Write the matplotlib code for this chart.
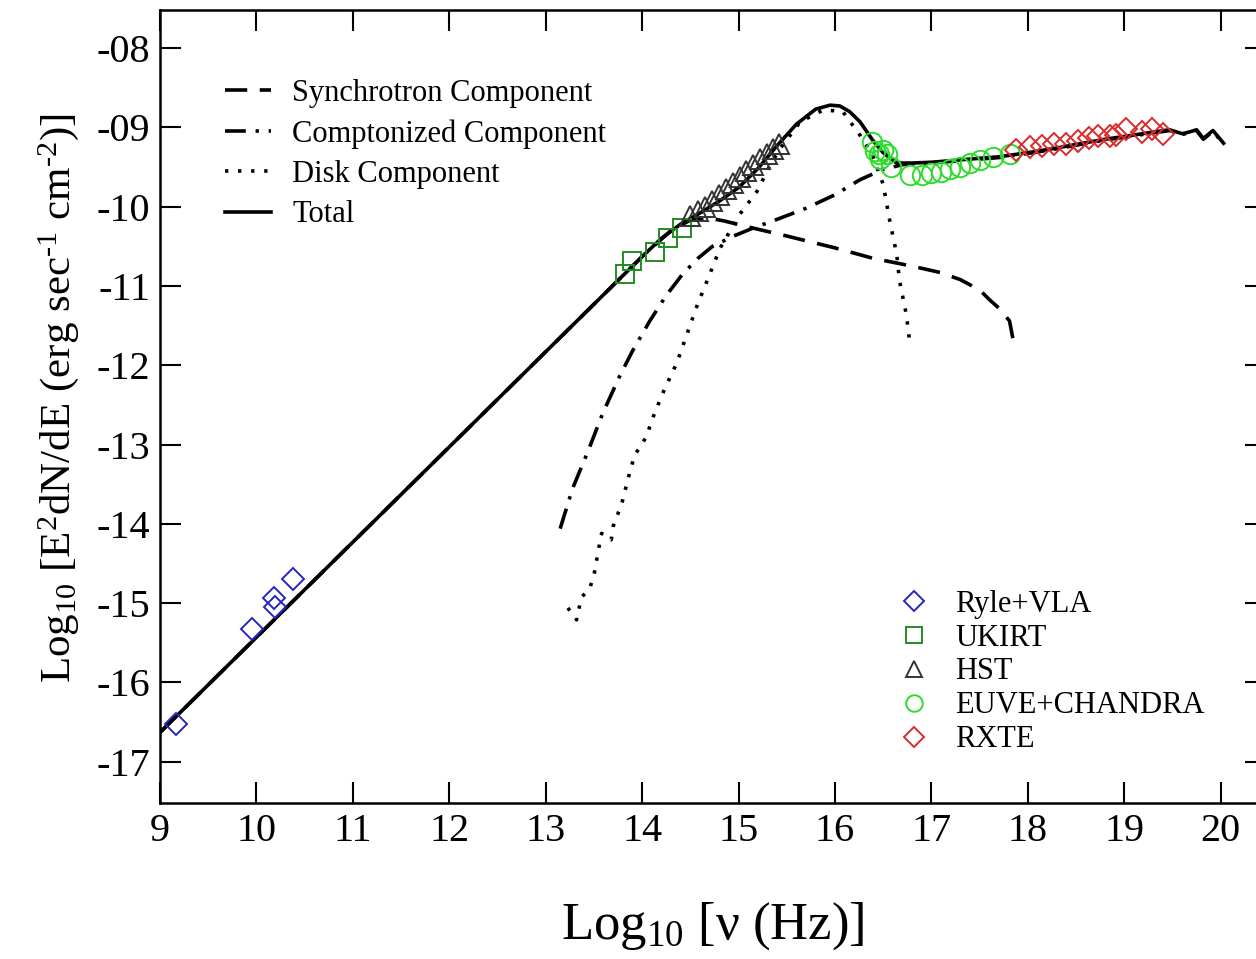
import matplotlib
matplotlib.use("Agg")
import matplotlib.pyplot as plt

plt.rcParams['font.family'] = ['Liberation Serif', 'DejaVu Serif']
plt.rcParams['mathtext.fontset'] = 'custom'
plt.rcParams['mathtext.rm'] = 'Liberation Serif'
plt.rcParams['mathtext.it'] = 'Liberation Serif:italic'
plt.rcParams['lines.scale_dashes'] = False

# Model curves (log nu, log E^2 dN/dE)
total_x = [9.0, 13.0, 14.0, 14.2, 14.4, 14.6, 14.8, 15.0, 15.2, 15.4, 15.6, 15.8, 15.95,
           16.05, 16.15, 16.26, 16.39, 16.5, 16.64, 16.8, 17.0, 17.2, 17.5, 17.71, 18.05,
           18.3, 18.57, 18.8, 19.08, 19.3, 19.47, 19.6, 19.67, 19.75, 19.82, 19.92, 20.03]
total_y = [-16.63, -11.83, -10.63, -10.40, -10.22, -10.08, -9.93, -9.76, -9.52, -9.23,
           -8.96, -8.77, -8.72, -8.73, -8.80, -8.93, -9.16, -9.32, -9.45, -9.45, -9.44,
           -9.42, -9.39, -9.37, -9.31, -9.26, -9.20, -9.15, -9.10, -9.06, -9.03, -9.08,
           -9.06, -9.03, -9.14, -9.04, -9.20]

sync_x = [9.0, 13.0, 14.0, 14.3, 14.5, 14.67, 14.85, 15.15, 15.5, 16.0, 16.39, 16.8,
          17.09, 17.3, 17.5, 17.6, 17.7, 17.81, 17.86]
sync_y = [-16.63, -11.83, -10.63, -10.30, -10.17, -10.14, -10.18, -10.27, -10.37, -10.52,
          -10.65, -10.75, -10.83, -10.92, -11.05, -11.17, -11.28, -11.44, -11.76]

compt_x = [13.15, 13.28, 13.44, 13.59, 13.77, 13.9, 14.08, 14.25, 14.42, 14.58, 14.73,
           14.95, 15.15, 15.4, 15.7, 16.0, 16.26, 16.5, 16.7, 17.0, 17.2, 17.5, 17.71,
           18.05, 18.3, 18.57, 18.8, 19.08, 19.3, 19.47, 19.6, 19.67, 19.75, 19.82, 19.92,
           20.03]
compt_y = [-14.06, -13.55, -13.08, -12.61, -12.13, -11.82, -11.44, -11.12, -10.85, -10.65,
           -10.50, -10.37, -10.27, -10.16, -10.02, -9.85, -9.66, -9.53, -9.47, -9.45,
           -9.43, -9.40, -9.38, -9.32, -9.27, -9.21, -9.16, -9.11, -9.07, -9.04, -9.09,
           -9.07, -9.04, -9.15, -9.05, -9.21]

disk_x = [13.23, 13.32, 13.37, 13.46, 13.5, 13.55, 13.58, 13.68, 13.7, 13.79, 13.85,
          13.92, 14.04, 14.13, 14.24, 14.36, 14.56, 14.81, 15.01, 15.19, 15.33, 15.43,
          15.64, 15.88, 16.08, 16.26, 16.39, 16.5, 16.57, 16.64, 16.67, 16.74, 16.78]
disk_y = [-15.06, -15.21, -14.93, -14.80, -14.65, -14.31, -14.12, -14.20, -14.03, -13.74,
          -13.45, -13.14, -12.91, -12.60, -12.28, -11.97, -11.28, -10.52, -10.10, -9.81,
          -9.47, -9.27, -8.93, -8.78, -8.80, -9.10, -9.35, -9.72, -10.19, -10.60, -10.94,
          -11.36, -11.76]

# Observations
ryle_x = [9.17, 9.95, 10.18, 10.19, 10.38]
ryle_y = [-16.53, -15.32, -14.93, -15.05, -14.70]

ukirt_x = [13.82, 13.90, 14.13, 14.27, 14.41]
ukirt_y = [-10.85, -10.69, -10.57, -10.40, -10.27]

hst_x = [14.50, 14.58, 14.65, 14.72, 14.80, 14.87, 14.94, 15.01, 15.08, 15.15, 15.22,
         15.29, 15.36, 15.42]
hst_y = [-10.12, -10.06, -10.00, -9.93, -9.85, -9.78, -9.70, -9.62, -9.55, -9.47, -9.40,
         -9.34, -9.27, -9.21]

euve_x = [16.38, 16.42, 16.46, 16.50, 16.54, 16.47, 16.58, 16.78, 16.90, 17.00, 17.10,
          17.19, 17.30, 17.40, 17.50, 17.64, 17.81]
euve_y = [-9.18, -9.30, -9.34, -9.28, -9.33, -9.40, -9.50, -9.60, -9.60, -9.58, -9.56,
          -9.53, -9.50, -9.45, -9.41, -9.37, -9.33]

rxte_x = [17.88, 18.02, 18.15, 18.27, 18.40, 18.52, 18.63, 18.73, 18.85, 18.91, 19.02,
          19.18, 19.29, 19.40]
rxte_y = [-9.28, -9.25, -9.23, -9.21, -9.21, -9.17, -9.14, -9.11, -9.11, -9.10, -9.02,
          -9.06, -9.02, -9.08]

yticks = [-17, -16, -15, -14, -13, -12, -11, -10, -9, -8]
ytick_labels = ['-17', '-16', '-15', '-14', '-13', '-12', '-11', '-10', '-09', '-08']
xticks = list(range(9, 21))

fig = plt.figure(figsize=(12.56, 9.59), dpi=100)
ax = fig.add_axes([160 / 1256, 1 - 803 / 959, (1266 - 160) / 1256, (803 - 10) / 959])

lw = 2.6
l_sync, = ax.plot(sync_x, sync_y, color='black', lw=lw, dashes=(16, 9),
                  label='Synchrotron Component')
l_compt, = ax.plot(compt_x, compt_y, color='black', lw=lw, dashes=(15, 7, 2.4, 7),
                   label='Comptonized Component')
l_disk, = ax.plot(disk_x, disk_y, color='black', lw=lw, dashes=(2.4, 7),
                  label='Disk Component')
l_tot, = ax.plot(total_x, total_y, color='black', lw=lw, label='Total')

mew = 1.4
m1, = ax.plot(ryle_x, ryle_y, 'D', ms=11.5, mfc='none', mec='#2626c0', mew=mew,
              ls='none', label='Ryle+VLA')
m2, = ax.plot(ukirt_x, ukirt_y, 's', ms=13, mfc='none', mec='#238c23', mew=mew,
              ls='none', label='UKIRT')
m3, = ax.plot(hst_x, hst_y, '^', ms=14, mfc='none', mec='#333333', mew=mew,
              ls='none', label='HST')
m4, = ax.plot(euve_x, euve_y, 'o', ms=14, mfc='none', mec='#2edc2e', mew=mew,
              ls='none', label='EUVE+CHANDRA')
m5, = ax.plot(rxte_x, rxte_y, 'D', ms=11.5, mfc='none', mec='#dc2a2a', mew=mew,
              ls='none', label='RXTE')

ax.set_xlim(9, 20.47)
ax.set_ylim(-17.52, -7.52)
ax.set_xticks(xticks)
ax.set_yticks(yticks)
ax.set_yticklabels(ytick_labels)
ax.tick_params(direction='in', length=15, width=1.5, top=True, right=True,
               labelsize=29, pad=7)
for sp in ax.spines.values():
    sp.set_linewidth(1.8)

ax.set_xlabel('Log$_{10}$ [ν (Hz)]', fontsize=38)
ax.xaxis.set_label_coords(0.5, -0.123)
ax.set_ylabel('Log$_{10}$ [E$^{2}$dN/dE (erg sec$^{‐1}$ cm$^{‐2}$)]', fontsize=31)
ax.yaxis.set_label_coords(-0.071, 0.511)

leg1 = ax.legend(handles=[l_sync, l_compt, l_disk, l_tot], loc='upper left',
                 bbox_to_anchor=(0.059, 0.913), frameon=False, fontsize=22,
                 handlelength=1.5, handletextpad=0.7, labelspacing=0.37,
                 borderpad=0, borderaxespad=0)
ax.add_artist(leg1)
ax.legend(handles=[m1, m2, m3, m4, m5], loc='upper left',
          bbox_to_anchor=(0.665, 0.269), frameon=False, fontsize=22,
          markerscale=0.85, handlelength=1.2, handletextpad=0.75, labelspacing=0.16,
          borderpad=0, borderaxespad=0)

fig.savefig('out.png', dpi=100)
